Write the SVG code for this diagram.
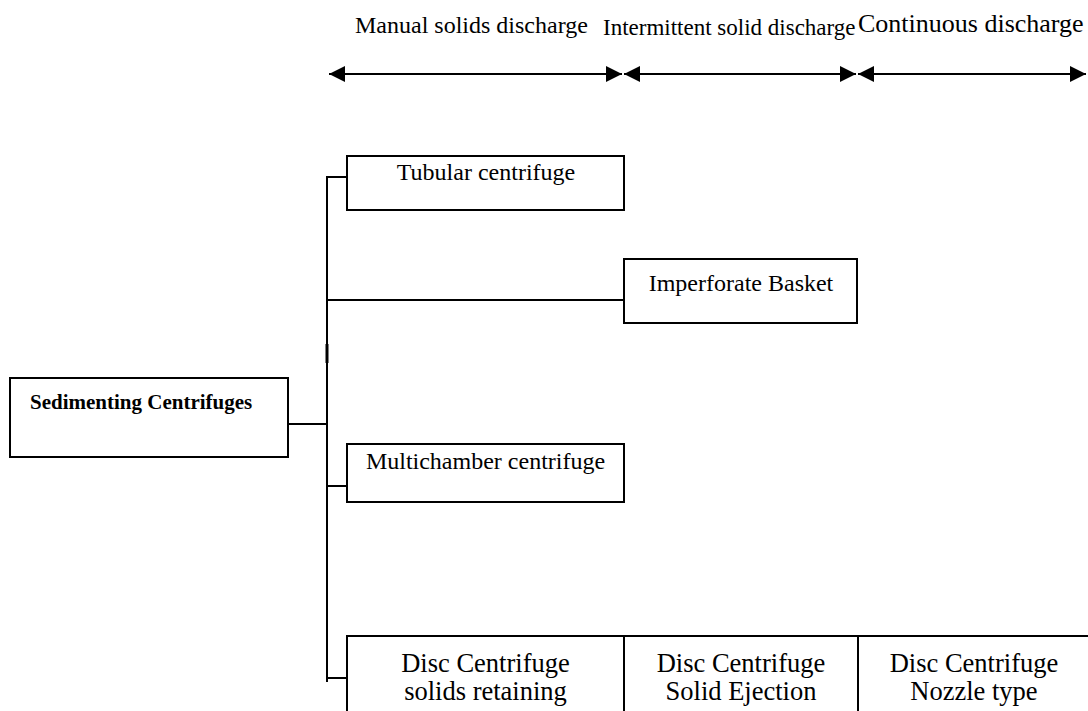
<svg xmlns="http://www.w3.org/2000/svg" width="1088" height="711" viewBox="0 0 1088 711">
<style>
.box{fill:#fff;stroke:#000;stroke-width:2}
.ln{fill:none;stroke:#000;stroke-width:2}
.t{font-family:"Liberation Serif","Times New Roman",serif;font-size:24px;fill:#000}
.c{text-anchor:middle}
.b{font-weight:bold;font-size:21px}
.d{font-size:26.5px}
</style>
<defs>
<marker id="ah" viewBox="0 0 16 16" refX="16" refY="8" markerWidth="16" markerHeight="16" markerUnits="userSpaceOnUse" orient="auto-start-reverse">
<path d="M0,0 L16,8 L0,16 Z" fill="#000"/>
</marker>
</defs>
<rect width="1088" height="711" fill="#fff"/>
<g id="labels">
<text class="t" x="355" y="33">Manual solids discharge</text>
<text class="t" x="603" y="35" style="font-size:23px">Intermittent solid discharge</text>
<text class="t" x="858" y="32" style="font-size:26px">Continuous discharge</text>
</g>
<g id="ranges">
<line class="ln" x1="329" y1="74" x2="622" y2="74" marker-start="url(#ah)" marker-end="url(#ah)"/>
<line class="ln" x1="624" y1="74" x2="856" y2="74" marker-start="url(#ah)" marker-end="url(#ah)"/>
<line class="ln" x1="858" y1="74" x2="1086" y2="74" marker-start="url(#ah)" marker-end="url(#ah)"/>
</g>
<g id="connectors">
<line class="ln" x1="327" y1="176" x2="327" y2="682"/>
<line x1="327" y1="344" x2="327" y2="363" stroke="#000" stroke-width="3"/>
<line class="ln" x1="288" y1="424" x2="327" y2="424"/>
<line class="ln" x1="326" y1="177" x2="347" y2="177"/>
<line class="ln" x1="327" y1="300" x2="624" y2="300"/>
<line class="ln" x1="327" y1="486" x2="347" y2="486"/>
<line class="ln" x1="327" y1="678" x2="347" y2="678"/>
</g>
<g id="sedimenting">
<rect class="box" x="10" y="378" width="278" height="79"/>
<text class="t b" x="30" y="409">Sedimenting Centrifuges</text>
</g>
<g id="tubular">
<rect class="box" x="347" y="156" width="277" height="54"/>
<text class="t c" x="486" y="180">Tubular centrifuge</text>
</g>
<g id="imperforate">
<rect class="box" x="624" y="259" width="233" height="64"/>
<text class="t c" x="741" y="291">Imperforate Basket</text>
</g>
<g id="multichamber">
<rect class="box" x="347" y="444" width="277" height="58"/>
<text class="t c" x="485.5" y="469">Multichamber centrifuge</text>
</g>
<g id="disc-retaining">
<rect class="box" x="347" y="636" width="277" height="90"/>
<text class="t c d" x="485.5" y="672">Disc Centrifuge</text>
<text class="t c d" x="485.5" y="700">solids retaining</text>
</g>
<g id="disc-ejection">
<rect class="box" x="624" y="636" width="234" height="90"/>
<text class="t c d" x="741" y="672">Disc Centrifuge</text>
<text class="t c d" x="741" y="700">Solid Ejection</text>
</g>
<g id="disc-nozzle">
<rect class="box" x="858" y="636" width="240" height="90"/>
<text class="t c d" x="974" y="672">Disc Centrifuge</text>
<text class="t c d" x="974" y="700">Nozzle type</text>
</g>
</svg>
